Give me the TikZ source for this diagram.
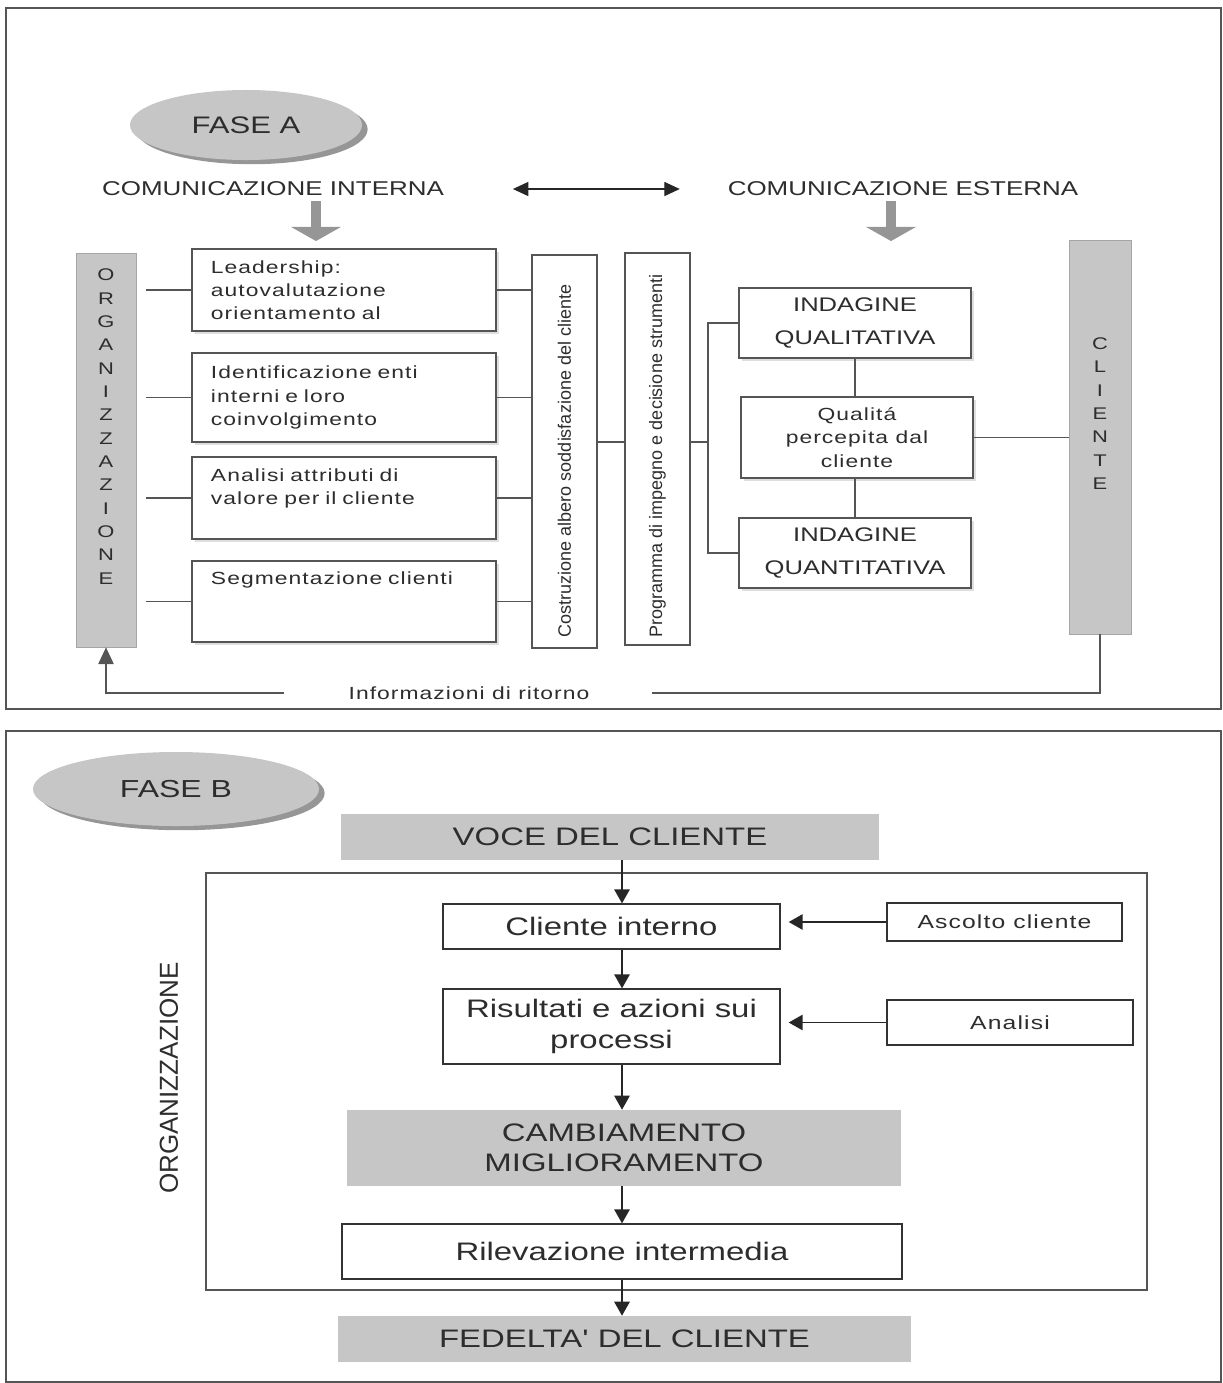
\documentclass[tikz,border=0pt]{standalone}
\usepackage{fontspec}
\usepackage{tikz}
\usetikzlibrary{shapes.geometric,arrows.meta,positioning,shadows}
\newfontfamily\largafont[FakeStretch=1.3]{Liberation Sans}
\newfontfamily\spazfont[FakeStretch=1.3,LetterSpace=6]{Liberation Sans}
\newfontfamily\rotfont{Liberation Sans}
\definecolor{bargray}{RGB}{198,198,198}
\definecolor{txtgray}{RGB}{45,45,45}
\definecolor{linegray}{RGB}{85,85,85}
\definecolor{arrgray}{RGB}{150,150,150}

\begin{document}
\begin{tikzpicture}[x=0.025cm,y=-0.025cm,
    every node/.style={text=txtgray},
    cornice/.style={draw=linegray,line width=0.8pt},
    fase/.style={ellipse,fill=bargray,inner sep=0pt,
      drop shadow={shadow xshift=4pt,shadow yshift=-3pt,opacity=.75,fill=black!55},
      font=\largafont\fontsize{17}{20}\selectfont},
    titolo/.style={font=\largafont\fontsize{14.2}{17}\selectfont},
    barra/.style={draw=black!35,fill=bargray,align=center,inner sep=0pt,
      font=\largafont\fontsize{12}{16.6}\selectfont},
    voce/.style={draw=linegray,fill=white,line width=0.9pt,
      drop shadow={shadow xshift=2pt,shadow yshift=-2pt,opacity=.25}},
    sinistra/.style={voce,minimum width=7.6cm,text width=6.65cm,inner xsep=0.475cm,
      inner ysep=0pt,align=left,font=\spazfont\fontsize{12.5}{16.5}\selectfont},
    striscia/.style={draw=linegray,fill=white,line width=0.9pt,rotate=90,
      minimum height=1.625cm,align=flush left,font=\rotfont\fontsize{12.8}{15}\selectfont},
    indagine/.style={voce,minimum width=5.8cm,minimum height=1.75cm,align=center,
      font=\largafont\fontsize{14}{24.1}\selectfont},
    qualita/.style={voce,minimum width=5.8cm,minimum height=2.025cm,align=center,
      font=\spazfont\fontsize{12.5}{16.7}\selectfont},
    collegamento/.style={draw=linegray,line width=0.9pt},
    frecciagrigia/.style={draw=arrgray,line width=6.5pt,-{Triangle[width=35pt,length=10pt]}},
    freccia/.style={draw=black!85,line width=1.1pt,-{Triangle[width=11pt,length=10pt]}},
    scatola/.style={draw=black!80,fill=white,line width=0.9pt,align=center,
      font=\largafont\fontsize{18}{22}\selectfont},
    piccola/.style={draw=black!80,line width=0.9pt,font=\spazfont\fontsize{13.5}{16}\selectfont},
    fascia/.style={fill=bargray,align=center,font=\largafont\fontsize{18}{21.3}\selectfont}]
  % Schema delle due fasi: comunicazione e voce del cliente
  \useasboundingbox (0,0) rectangle (1223,1383);
  \draw[cornice] (6,8) rectangle (1221,709);
  \draw[cornice] (6,731) rectangle (1221,1382);

  % FASE A
  \node[fase,minimum width=5.8cm,minimum height=1.75cm] (faseA) at (246,125) {FASE A};
  \node[titolo] (intA) at (273,189) {COMUNICAZIONE INTERNA};
  \node[titolo] (estA) at (903,189) {COMUNICAZIONE ESTERNA};
  \draw[draw=black!85,line width=0.9pt,
        {Triangle[width=10pt,length=11pt]}-{Triangle[width=10pt,length=11pt]},
        shorten <=1.6cm,shorten >=1.075cm] (intA) -- (estA);
  \draw[frecciagrigia] ([xshift=1.075cm]intA.south) -- ++(0,40);
  \draw[frecciagrigia] ([xshift=-0.3cm]estA.south) -- ++(0,40);

  \node[barra,minimum width=1.5cm,minimum height=9.85cm] (org) at (106,450)
    {O\\R\\G\\A\\N\\I\\Z\\Z\\A\\Z\\I\\O\\N\\E\\\mbox{}\\\mbox{}};
  \node[sinistra,minimum height=2.05cm] (lead) at (344,290)
    {Leadership:\\autovalutazione\\orientamento al};
  \node[sinistra,minimum height=2.225cm] (enti) at (344,397.5)
    {Identificazione enti\\interni e loro\\coinvolgimento};
  \node[sinistra,minimum height=2.05cm] (attr) at (344,498)
    {Analisi attributi di\\valore per il cliente\\\mbox{}};
  \node[sinistra,minimum height=2.025cm] (segm) at (344,601.5)
    {Segmentazione clienti\\\mbox{}\\\mbox{}};

  \node[striscia,minimum width=9.825cm,text width=9.275cm,inner xsep=0.275cm] (cos)
    at (564.5,451.5) {Costruzione albero soddisfazione del cliente};
  \node[striscia,minimum width=9.8cm,text width=9.4cm,inner xsep=0.2cm] (prog)
    at (657.5,449) {Programma di impegno e decisione strumenti};

  \foreach \b in {lead,enti,attr,segm}{
    \draw[collegamento] (\b.west) -- ++(-45,0);
    \draw[collegamento] (\b.east) -- (\b.east -| cos.north);
  }

  \node[indagine] (q1) at (855,323) {INDAGINE\\QUALITATIVA};
  \node[qualita] (q2) at (857,437.5) {Qualitá\\percepita dal\\cliente};
  \node[indagine] (q3) at (855,553) {INDAGINE\\QUANTITATIVA};
  \node[barra,minimum width=1.55cm,minimum height=9.85cm] (cli) at (1100,437)
    {C\\L\\I\\E\\N\\T\\E\\\mbox{}\\\mbox{}};

  \coordinate (br) at (708,442);
  \draw[collegamento] (cos.south |- br) -- (prog.north |- br);
  \draw[collegamento] (prog.south |- br) -- (br);
  \draw[collegamento] (q1.west) -| (br) |- (q3.west);
  \draw[collegamento] (q1.south) -- (q1.south |- q2.north);
  \draw[collegamento] (q3.north) -- (q3.north |- q2.south);
  \draw[collegamento] (q2.east) -- (q2.east -| cli.west);

  \node[font=\spazfont\fontsize{12.5}{15}\selectfont] (rit) at (469,693) {Informazioni di ritorno};
  \draw[collegamento,shorten >=1.45cm] (cli.south) |- (rit.east);
  \draw[collegamento,-{Triangle[width=11pt,length=12pt]},shorten <=1.5cm] (rit.west) -| (org.south);

  % FASE B
  \node[fase,minimum width=7.15cm,minimum height=1.85cm,
        font=\largafont\fontsize{17.5}{20}\selectfont] (faseB) at (176,789) {FASE B};
  \node[fascia,minimum width=13.45cm,minimum height=1.15cm] (voceB) at (610,837) {VOCE DEL CLIENTE};
  \draw[cornice] (206,873) rectangle (1147,1290);
  \node[rotate=90,font=\rotfont\fontsize{18.5}{22}\selectfont] (orgB) at (169,1078) {ORGANIZZAZIONE};
  \coordinate (asse) at (622,0);
  \node[scatola,minimum width=8.425cm,minimum height=1.125cm] (ci) at (611.5,926.5) {Cliente interno};
  \node[piccola,minimum width=5.875cm,minimum height=0.95cm] (asc) at (1004.5,922) {Ascolto cliente};
  \node[scatola,minimum width=8.425cm,minimum height=1.875cm] (ris) at (611.5,1026.5)
    {Risultati e azioni sui\\processi};
  \node[piccola,minimum width=6.15cm,minimum height=1.125cm] (ana) at (1010,1022.5) {Analisi};
  \node[fascia,minimum width=13.85cm,minimum height=1.9cm] (cam) at (624,1148)
    {CAMBIAMENTO\\MIGLIORAMENTO};
  \node[scatola,minimum width=14cm,minimum height=1.375cm] (ril) at (622,1251.5) {Rilevazione intermedia};
  \node[fascia,minimum width=14.325cm,minimum height=1.15cm] (fed) at (624.5,1339) {FEDELTA' DEL CLIENTE};

  \foreach \a/\b in {voceB/ci,ci/ris,ris/cam,cam/ril,ril/fed}
    \draw[freccia] (\a.south -| asse) -- (\b.north -| asse);
  \draw[freccia,shorten >=0.2cm] (asc.west) -- (asc.west -| ci.east);
  \draw[freccia,shorten >=0.2cm] (ana.west) -- (ana.west -| ris.east);
\end{tikzpicture}
\end{document}
